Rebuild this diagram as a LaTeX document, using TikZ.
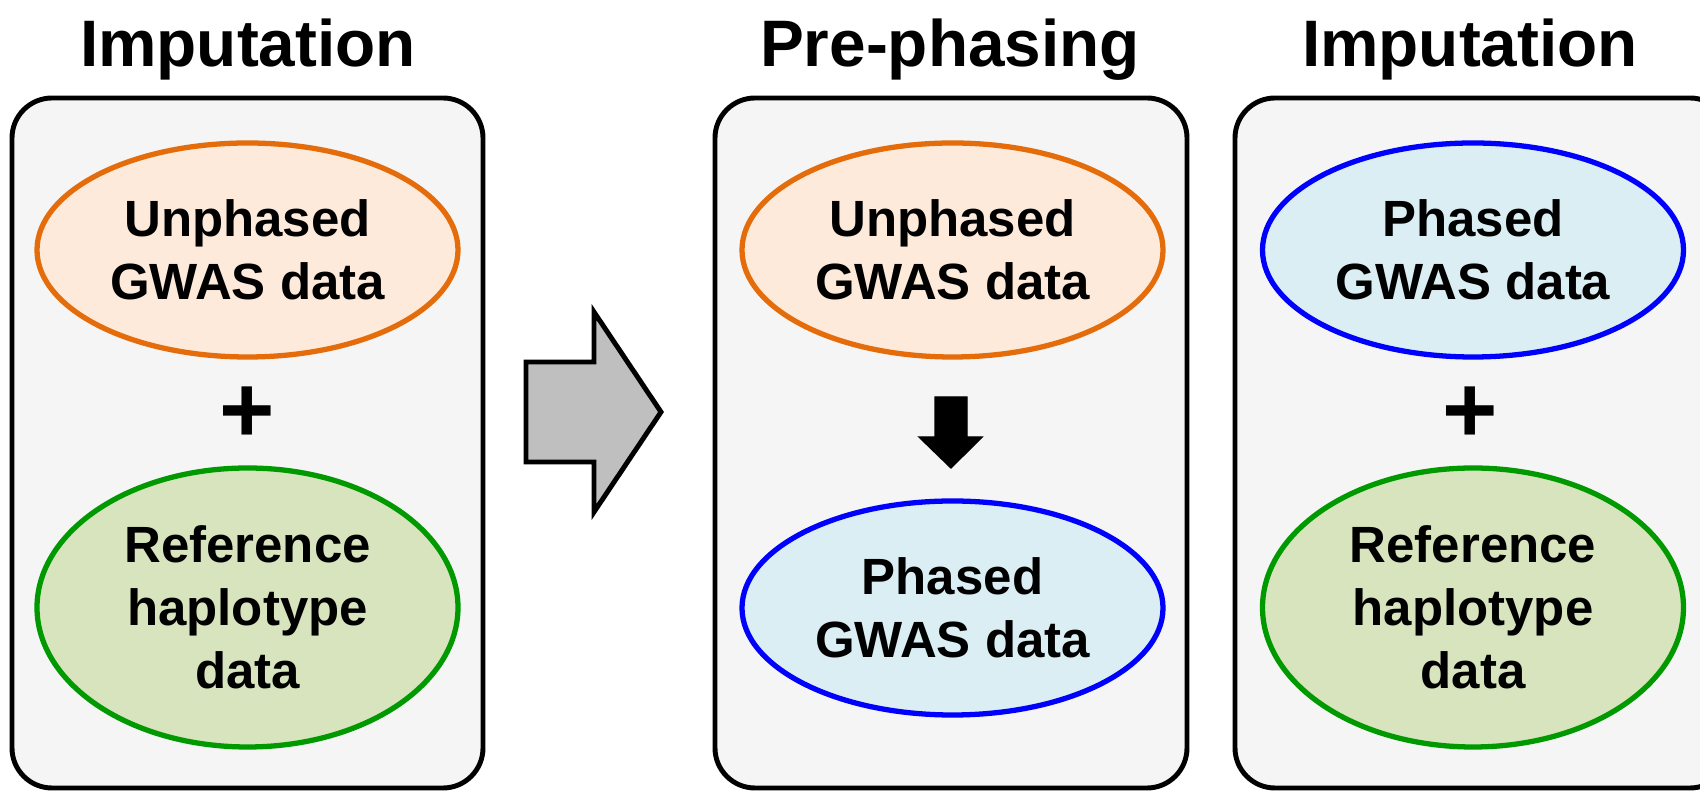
\documentclass[tikz,border=0pt]{standalone}
\usepackage{fontspec}
\setmainfont{Liberation Sans}
\usepackage{tikz}
\usetikzlibrary{shapes,arrows,positioning,calc}
\usepackage{xcolor}

\definecolor{panelgray}{HTML}{F5F5F5}
\definecolor{unphline}{HTML}{E46C0A}
\definecolor{unphfill}{HTML}{FDEADA}
\definecolor{refline}{HTML}{009900}
\definecolor{reffill}{HTML}{D7E4BD}
\definecolor{phline}{HTML}{0000FF}
\definecolor{phfill}{HTML}{DBEEF4}
\definecolor{arrowgray}{HTML}{BFBFBF}

\tikzset{
  panel/.style={draw=black, line width=1.4pt, fill=panelgray, rounded corners=0.4cm},
  title/.style={anchor=base, font=\fontsize{18.7}{22}\selectfont\bfseries},
  blob/.style={ellipse, line width=1.5pt, inner sep=0pt, align=center,
    minimum width=4.21cm, minimum height=2.14cm,
    font=\fontsize{14.5}{17.9}\selectfont\bfseries},
  unphased/.style={blob, draw=unphline, fill=unphfill},
  phased/.style={blob, draw=phline, fill=phfill},
  refhap/.style={blob, draw=refline, fill=reffill, minimum height=2.79cm},
  plus/.style={font=\fontsize{27}{30}\selectfont\bfseries}
}

\begin{document}
\begin{tikzpicture}
            \useasboundingbox (0,0) rectangle (17,7.91);

            % Imputation alone
            \draw[panel] (0.12,0.03) rectangle (4.83,6.93);
            \node[title] (t1) at (2.48,7.24) {Imputation};
            \node[unphased] (u1) at (2.475,5.41) {Unphased\\GWAS data};
            \node[plus] (p1) at (2.47,3.76) {+};
            \node[refhap] (r1) at (2.475,1.835) {Reference\\haplotype\\data};

            % Big arrow
            \draw[line width=1.4pt, fill=arrowgray] (5.26,3.29) -- (5.26,4.29) -- (5.94,4.29)
                -- (5.94,4.79) -- (6.61,3.79) -- (5.94,2.79) -- (5.94,3.29) -- cycle;

            % Pre-phasing
            \draw[panel] (7.15,0.03) rectangle (11.87,6.93);
            \node[title] (t2) at (9.50,7.24) {Pre-phasing};
            \node[unphased] (u2) at (9.525,5.41) {Unphased\\GWAS data};
            \node[phased] (f2) at (9.525,1.83) {Phased\\GWAS data};
            \draw[fill=black] (9.35,3.94) -- (9.67,3.94) -- (9.67,3.54) -- (9.82,3.54)
                -- (9.51,3.23) -- (9.19,3.54) -- (9.35,3.54) -- cycle;

            % Imputation after pre-phasing
            \draw[panel] (12.35,0.03) rectangle (17.3,6.93);
            \node[title] (t3) at (14.70,7.24) {Imputation};
            \node[phased] (f3) at (14.73,5.41) {Phased\\GWAS data};
            \node[plus] (p3) at (14.70,3.76) {+};
            \node[refhap] (r3) at (14.73,1.835) {Reference\\haplotype\\data};
        \end{tikzpicture}
\end{document}
